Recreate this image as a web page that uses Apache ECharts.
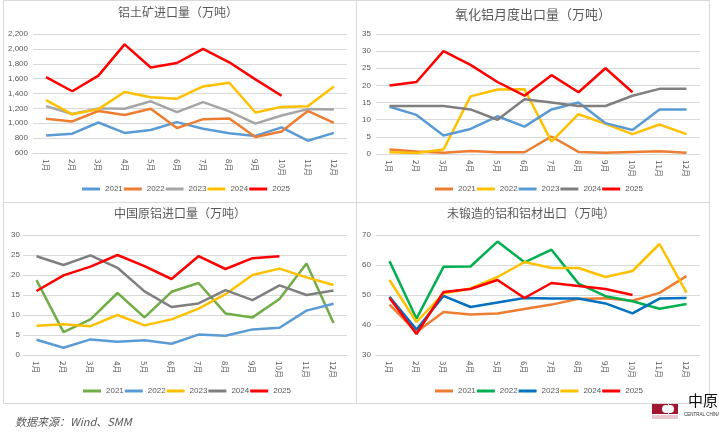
<!DOCTYPE html>
<html><head><meta charset="utf-8">
<script src="https://cdn.jsdelivr.net/npm/echarts@6/dist/echarts.min.js"></script>
<style>html,body{margin:0;padding:0;background:#fff}#c{width:719px;height:433px}</style>
</head><body><div id="c"></div>
<script>
const months = ['1月','2月','3月','4月','5月','6月','7月','8月','9月','10月','11月','12月'];
const years = ['2021','2022','2023','2024','2025'];

// Panel 1: 铝土矿进口量（万吨）
const bauxite2021 = [835, 860, 1010, 870, 910, 1015, 925, 865, 830, 945, 765, 870];
const bauxite2022 = [1060, 1025, 1165, 1110, 1195, 935, 1055, 1065, 815, 890, 1165, 1005];
const bauxite2023 = [1230, 1125, 1200, 1195, 1295, 1150, 1285, 1160, 995, 1105, 1190, 1185];
const bauxite2024 = [1310, 1120, 1190, 1420, 1350, 1330, 1495, 1545, 1145, 1220, 1230, 1495];
const bauxite2025 = [1620, 1430, 1640, 2060, 1750, 1810, 2000, 1820, 1590, 1370];

// Panel 2: 氧化铝月度出口量（万吨）
const alumina2021 = [1.3, 0.7, 0.4, 0.9, 0.5, 0.5, 5.1, 0.6, 0.4, 0.6, 0.8, 0.4];
const alumina2022 = [0.5, 0.3, 1.3, 16.8, 18.8, 18.9, 3.6, 11.6, 8.8, 5.8, 8.6, 5.8];
const alumina2023 = [13.8, 11.4, 5.4, 7.3, 11, 8, 13, 15, 9, 7, 13, 13];
const alumina2024 = [14, 14, 14, 13, 10, 16, 15, 14, 14, 17, 19, 19];
const alumina2025 = [20, 21, 30, 26, 21, 17, 23, 18, 25, 18];

// Panel 3: 中国原铝进口量（万吨）
const primary2021 = [18.7, 5.7, 8.9, 15.5, 9.4, 15.8, 18.0, 10.4, 9.4, 14.0, 22.9, 8.0];
const primary2022 = [3.8, 1.8, 3.9, 3.3, 3.7, 2.8, 5.1, 4.8, 6.4, 6.8, 11.1, 12.8];
const primary2023 = [7.3, 7.7, 7.2, 10.0, 7.4, 8.9, 11.6, 15.2, 20.0, 21.6, 19.4, 17.5];
const primary2024 = [24.7, 22.5, 24.9, 21.8, 15.9, 12.0, 12.9, 16.2, 13.7, 17.4, 15.0, 16.1];
const primary2025 = [16.0, 19.9, 22.1, 25.0, 22.2, 19.0, 24.7, 21.5, 24.2, 24.7];

// Panel 4: 未锻造的铝和铝材出口（万吨）
const export2021 = [46.8, 37.7, 44.3, 43.5, 43.8, 45.3, 46.8, 48.7, 48.9, 48.1, 50.7, 56.3];
const export2022 = [61.3, 42.1, 59.4, 59.5, 67.8, 60.9, 65.1, 53.8, 49.6, 47.9, 45.4, 47.0];
const export2023 = [49.4, 38.5, 49.7, 46.0, 47.5, 49.0, 48.8, 48.8, 47.2, 43.9, 48.8, 49.0];
const export2024 = [55, 41, 50.5, 52.2, 56, 61, 59, 59, 56, 58, 67, 50.8];
const export2025 = [49, 37, 51, 52, 55, 49, 54, 53, 52, 50];

const titles = ['铝土矿进口量（万吨）','氧化铝月度出口量（万吨）','中国原铝进口量（万吨）','未锻造的铝和铝材出口（万吨）'];

const panels = [
  {data:[bauxite2021,bauxite2022,bauxite2023,bauxite2024,bauxite2025],
   colors:['#5B9BD5','#ED7D31','#A5A5A5','#FFC000','#FF0000'],
   min:600,max:2200,interval:200,comma:true},
  {data:[alumina2021,alumina2022,alumina2023,alumina2024,alumina2025],
   colors:['#ED7D31','#FFC000','#5B9BD5','#7F7F7F','#FF0000'],
   min:0,max:35,interval:5},
  {data:[primary2021,primary2022,primary2023,primary2024,primary2025],
   colors:['#70AD47','#5B9BD5','#FFC000','#7F7F7F','#FF0000'],
   min:0,max:30,interval:5},
  {data:[export2021,export2022,export2023,export2024,export2025],
   colors:['#ED7D31','#00B050','#0070C0','#FFC000','#FF0000'],
   min:30,max:70,interval:10}
];

const layout = [
  {grid:{left:33,top:34,width:314,height:119}, title:{x:178,y:6,size:12}, legend:{left:82,top:185}},
  {grid:{left:376,top:34,width:324,height:120}, title:{x:533,y:8,size:13}, legend:{left:435,top:185}},
  {grid:{left:23,top:235,width:324,height:120}, title:{x:180,y:207,size:12}, legend:{left:83,top:387}},
  {grid:{left:376,top:235,width:324,height:120}, title:{x:531,y:207,size:12}, legend:{left:435,top:387}}
];

const txt = '#595959';
const font = '"Noto Sans CJK SC", "Liberation Sans", sans-serif';

const option = {
  animation:false,
  backgroundColor:'#fff',
  title: titles.map((t,i)=>({text:t,left:layout[i].title.x,top:layout[i].title.y,textAlign:'center',padding:0,
    textStyle:{color:txt,fontSize:layout[i].title.size,fontWeight:'normal',fontFamily:font}})),
  grid: layout.map(l=>Object.assign({containLabel:false},l.grid)),
  xAxis: panels.map((p,i)=>({type:'category',gridIndex:i,data:months,boundaryGap:true,
    axisLine:{lineStyle:{color:'#D9D9D9',width:1}},axisTick:{show:false},
    axisLabel:{rotate:-90,color:txt,fontSize:8,margin:6,fontFamily:font,interval:0}})),
  yAxis: panels.map((p,i)=>({type:'value',gridIndex:i,min:p.min,max:p.max,interval:p.interval,
    axisLine:{show:false},axisTick:{show:false},
    splitLine:{lineStyle:{color:'#D9D9D9',width:1}},
    axisLabel:{color:txt,fontSize:8,margin:i===2?3:5,fontFamily:'"Liberation Sans", sans-serif',
      formatter: p.comma ? (v=>v.toLocaleString('en-US')) : (v=>String(v))}})),
  legend: panels.map((p,i)=>({left:layout[i].legend.left,top:layout[i].legend.top,orient:'horizontal',
    itemWidth:18,itemHeight:3,itemGap:1,icon:'rect',padding:0,
    textStyle:{color:txt,fontSize:8,fontFamily:'"Liberation Sans", sans-serif'},
    data:years.map((y,k)=>({name:'p'+i+'_'+y,itemStyle:{color:p.colors[k]}})),
    formatter:n=>n.split('_')[1]})),
  series: [],
  graphic: [
    {type:'rect',shape:{x:3.5,y:0.5,width:353,height:202},style:{fill:'none',stroke:'#D9D9D9',lineWidth:1},silent:true},
    {type:'rect',shape:{x:356.5,y:0.5,width:353,height:202},style:{fill:'none',stroke:'#D9D9D9',lineWidth:1},silent:true},
    {type:'rect',shape:{x:3.5,y:202.5,width:353,height:201},style:{fill:'none',stroke:'#D9D9D9',lineWidth:1},silent:true},
    {type:'rect',shape:{x:356.5,y:202.5,width:353,height:201},style:{fill:'none',stroke:'#D9D9D9',lineWidth:1},silent:true},
    {type:'text',x:15,y:416,style:{text:'数据来源：Wind、SMM',fill:'#595959',fontSize:11,fontStyle:'italic',fontFamily:font}},
    {type:'rect',shape:{x:652,y:404,width:16,height:10},style:{fill:'#A0182F'},silent:true},
    {type:'circle',shape:{cx:666,cy:409,r:4},style:{fill:'#fff'},silent:true},
    {type:'rect',shape:{x:669,y:404,width:9,height:10},style:{fill:'#A0182F'},silent:true},
    {type:'circle',shape:{cx:670,cy:409,r:4},style:{fill:'#fff'},silent:true},
    {type:'rect',shape:{x:652,y:415,width:26,height:4},style:{fill:'#E8C8CE'},silent:true},
    {type:'text',x:688,y:393,style:{text:'中原',fill:'#111',fontSize:15,fontFamily:font}},
    {type:'text',x:684,y:412,style:{text:'CENTRAL CHINA',fill:'#333',fontSize:4.5,fontFamily:'"Liberation Sans", sans-serif'}}
  ]
};

panels.forEach((p,i)=>{
  years.forEach((y,k)=>{
    option.series.push({type:'line',name:'p'+i+'_'+y,xAxisIndex:i,yAxisIndex:i,data:p.data[k],
      symbol:'none',smooth:false,lineStyle:{width:2.5,color:p.colors[k]},itemStyle:{color:p.colors[k]}});
  });
});

const chart = echarts.init(document.getElementById('c'),null,{renderer:'canvas'});
chart.setOption(option);
</script>
</body></html>
